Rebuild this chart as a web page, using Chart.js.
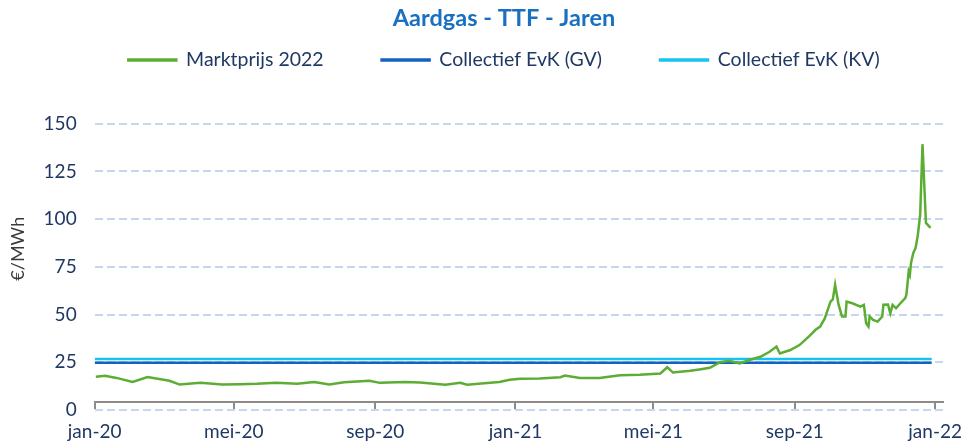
<!DOCTYPE html>
<html>
<head>
<meta charset="utf-8">
<script src="https://cdn.jsdelivr.net/npm/chart.js@4/dist/chart.umd.min.js"></script>
<style>
  body { margin: 0; background: #fff; }
  #wrap { width: 964px; height: 447px; }
</style>
</head>
<body>
<div id="wrap"><canvas id="gasChart" width="964" height="447"></canvas></div>
<script>
// data
const dates = [
  "2020-01-02", "2020-01-10", "2020-01-20", "2020-02-03", "2020-02-16", "2020-03-06",
  "2020-03-15", "2020-04-02", "2020-04-21", "2020-05-06", "2020-05-21", "2020-06-07",
  "2020-06-25", "2020-07-10", "2020-07-23", "2020-08-05", "2020-08-27", "2020-09-05",
  "2020-09-27", "2020-10-10", "2020-11-01", "2020-11-14", "2020-11-20", "2020-12-10",
  "2020-12-18", "2020-12-27", "2021-01-05", "2021-01-22", "2021-02-09", "2021-02-13",
  "2021-02-26", "2021-03-15", "2021-04-02", "2021-04-19", "2021-05-07", "2021-05-13",
  "2021-05-18", "2021-06-02", "2021-06-10", "2021-06-19", "2021-06-28", "2021-07-06",
  "2021-07-15", "2021-07-24", "2021-08-02", "2021-08-10", "2021-08-16", "2021-08-19",
  "2021-08-28", "2021-09-05", "2021-09-14", "2021-09-19", "2021-09-23", "2021-09-27",
  "2021-10-02", "2021-10-04", "2021-10-06", "2021-10-09", "2021-10-12", "2021-10-15",
  "2021-10-16", "2021-10-21", "2021-10-28", "2021-10-31", "2021-11-02", "2021-11-04",
  "2021-11-05", "2021-11-08", "2021-11-12", "2021-11-16", "2021-11-17", "2021-11-21",
  "2021-11-23", "2021-11-25", "2021-11-28", "2021-12-01", "2021-12-06", "2021-12-07",
  "2021-12-09", "2021-12-10", "2021-12-11", "2021-12-13", "2021-12-15", "2021-12-17",
  "2021-12-19", "2021-12-21", "2021-12-24", "2021-12-28"
];
const marktprijs = [
  17.4, 17.9, 16.8, 14.7, 17.2, 15.3,
  13.3, 14.2, 13.3, 13.5, 13.7, 14.2,
  13.7, 14.7, 13.3, 14.5, 15.3, 14.2,
  14.7, 14.4, 13.2, 14.2, 13.2, 14.2,
  14.7, 15.8, 16.3, 16.5, 17.2, 18.0,
  16.8, 16.8, 18.2, 18.4, 19.1, 22.4,
  19.6, 20.5, 21.2, 22.1, 25.0, 25.8,
  24.4, 26.3, 27.9, 30.5, 33.2, 29.6,
  31.4, 34.0, 39.0, 42.0, 43.7, 48.0,
  56.8, 57.9, 65.6, 55.2, 49.0, 49.0,
  56.8, 55.9, 54.2, 55.1, 45.4, 43.7,
  49.0, 47.2, 46.3, 49.0, 55.1, 55.2,
  50.7, 55.1, 53.3, 55.4, 58.6, 60.4,
  72.6, 70.9, 77.0, 82.3, 84.9, 91.9,
  102.5, 139.3, 98.0, 95.4
];
const evkGV = 24.8;
const evkKV = 26.7;
const evkStart = "2020-01-01";
const evkEnd = "2021-12-29";

const tickDates = ["2020-01-01", "2020-05-01", "2020-09-01", "2021-01-01", "2021-05-01", "2021-09-01", "2022-01-01"];
const tickLabels = ["jan-20", "mei-20", "sep-20", "jan-21", "mei-21", "sep-21", "jan-22"];
const yTicks = [0, 25, 50, 75, 100, 125, 150];
// bovenkant van de as iets boven 150 zodat de legenda ruimte heeft
const yMax = 169;

// dagen sinds 1 jan 2020
const origin = Date.UTC(2020, 0, 1);
function dayOf(s) {
  const p = s.split("-").map(Number);
  return Math.round((Date.UTC(p[0], p[1] - 1, p[2]) - origin) / 86400000);
}
const tickDays = tickDates.map(dayOf);

const navy = "#203864";
const fontName = "Lato, 'Noto Sans', sans-serif";

const config = {
  type: "line",
  data: {
    datasets: [
      {
        label: "Marktprijs 2022",
        data: dates.map((d, i) => ({ x: dayOf(d), y: marktprijs[i] })),
        borderColor: "#5cad34",
        backgroundColor: "#5cad34",
        borderWidth: 2.5,
        pointRadius: 0,
        tension: 0
      },
      {
        label: "Collectief EvK (GV)",
        data: [{ x: dayOf(evkStart), y: evkGV }, { x: dayOf(evkEnd), y: evkGV }],
        borderColor: "#1461c2",
        backgroundColor: "#1461c2",
        borderWidth: 2.5,
        pointRadius: 0
      },
      {
        label: "Collectief EvK (KV)",
        data: [{ x: dayOf(evkStart), y: evkKV }, { x: dayOf(evkEnd), y: evkKV }],
        borderColor: "#16c4f2",
        backgroundColor: "#16c4f2",
        borderWidth: 2.5,
        pointRadius: 0
      }
    ]
  },
  options: {
    responsive: false,
    animation: false,
    layout: { padding: { left: 42, right: -2, top: 0, bottom: -15 } },
    plugins: {
      title: {
        display: true,
        text: "Aardgas - TTF - Jaren",
        color: "#1a6fc0",
        font: { family: fontName, size: 23.5, weight: "bold" },
        padding: { top: 4, bottom: -40 }
      },
      legend: {
        display: true,
        labels: {
          color: navy,
          font: { family: fontName, size: 19.5 },
          boxWidth: 48,
          boxHeight: 1,
          padding: 58
        }
      },
      tooltip: { enabled: false }
    },
    scales: {
      x: {
        type: "linear",
        min: 0,
        max: 738,
        afterBuildTicks: function(scale) {
          scale.ticks = tickDays.map(v => ({ value: v }));
        },
        ticks: {
          autoSkip: false,
          maxRotation: 0,
          padding: 2,
          color: navy,
          font: { family: fontName, size: 19, lineHeight: 2.16 },
          callback: function(value) {
            const i = tickDays.indexOf(value);
            return i >= 0 ? tickLabels[i] : "";
          }
        },
        grid: {
          drawOnChartArea: false,
          drawTicks: true,
          tickLength: 7,
          color: "#8c8c8c",
          lineWidth: 2
        },
        border: { display: true, color: "#8c8c8c", width: 2 }
      },
      y: {
        min: 0,
        max: yMax,
        afterBuildTicks: function(scale) {
          scale.ticks = yTicks.map(v => ({ value: v }));
        },
        ticks: {
          padding: 18,
          color: navy,
          font: { family: fontName, size: 19 }
        },
        grid: {
          drawTicks: false,
          color: "#c5d7ef",
          lineWidth: 2
        },
        border: { display: false, dash: [8, 4] },
        title: {
          display: true,
          text: "€/MWh",
          color: "#3a3a3a",
          font: { family: fontName, size: 18 },
          padding: { top: -35, bottom: -3 }
        }
      }
    }
  }
};

new Chart(document.getElementById("gasChart"), config);
</script>
</body>
</html>
